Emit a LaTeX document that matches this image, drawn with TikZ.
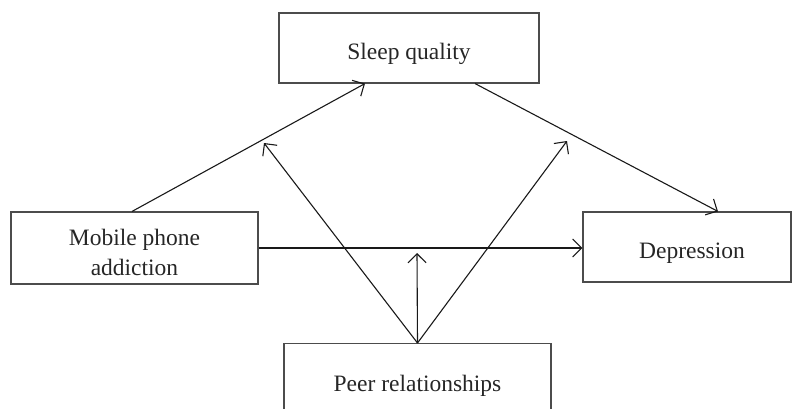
\documentclass[tikz,border=0pt]{standalone}
\usepackage{fontspec}
\setmainfont{Liberation Serif}
\usetikzlibrary{arrows.meta}
\begin{document}
\begin{tikzpicture}[x=1pt,y=-1pt,
  box/.style={draw=black!70,line width=1.1pt,rectangle,inner sep=0pt},
  txt/.style={align=center,inner sep=0pt,font=\fontsize{23.5}{30}\selectfont,text=black!85},
  arr/.style={draw=black!90,line width=1.1pt,-{Straight Barb[length=9pt,width=18pt,line width=1.1pt]}}]
\useasboundingbox (0,0) rectangle (792,409);
\node[box,minimum width=260pt,minimum height=70pt] (sleep) at (409,48) {};
\node[box,minimum width=247pt,minimum height=72pt] (mob) at (134.5,248) {};
\node[box,minimum width=208pt,minimum height=70pt] (dep) at (687,247) {};
\node[box,minimum width=267pt,minimum height=84pt,anchor=north] (peer) at (417.5,343) {};
\node[txt] (sleeptxt) at (409,54) {Sleep quality};
\node[txt] (mobtxt) at (134.5,252) {Mobile phone\\addiction};
\node[txt] (deptxt) at (692,253) {Depression};
\node[txt] (peertxt) at (417.5,386) {Peer relationships};
\coordinate (tl) at (264,143);
\coordinate (tr) at (567,141);
\coordinate (tm) at (417,253);
\draw[arr] ([xshift=-2.5pt]mob.north) -- ([xshift=-44pt]sleep.south);
\draw[arr] ([xshift=66pt]sleep.south) -- ([xshift=31pt]dep.north);
\draw[arr] (mob.east) -- (mob.east -| dep.west);
\draw[arr] (peer.north) -- (tl);
\draw[arr] (peer.north) -- (tr);
\draw[arr] (peer.north) -- (tm);
\end{tikzpicture}
\end{document}
